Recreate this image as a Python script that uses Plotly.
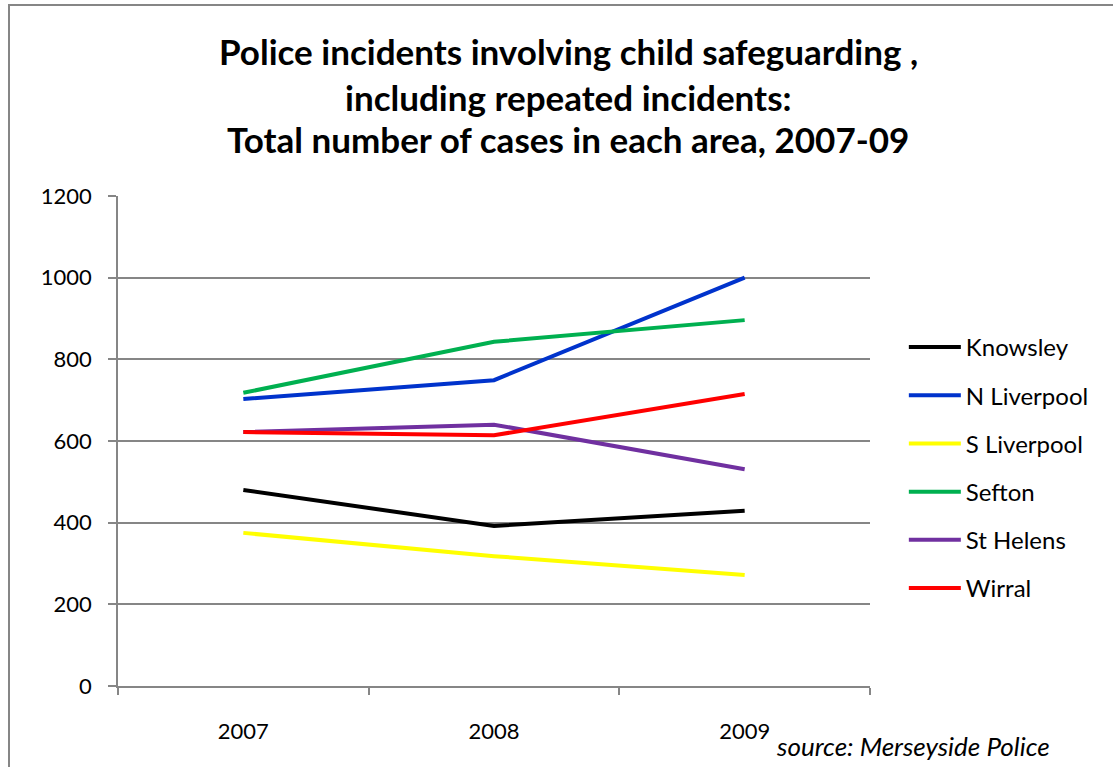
import plotly.graph_objects as go

# Incident counts per area, 2007-2009
years = ["2007", "2008", "2009"]
areas = ["Knowsley", "N Liverpool", "S Liverpool", "Sefton", "St Helens", "Wirral"]
knowsley = [480, 392, 429]
n_liverpool = [703, 749, 1000]
s_liverpool = [375, 318, 272]
sefton = [718, 843, 896]
st_helens = [622, 640, 531]
wirral = [622, 614, 715]
y_ticks = [0, 200, 400, 600, 800, 1000, 1200]

series = [knowsley, n_liverpool, s_liverpool, sefton, st_helens, wirral]
colors = ["#000000", "#0033CC", "#FFFF00", "#00B050", "#7030A0", "#FF0000"]

FONT = "Lato"
GRID = "#868686"

fig = go.Figure()
for name, vals, col in zip(areas, series, colors):
    fig.add_trace(go.Scatter(
        x=years, y=vals, name=name, mode="lines",
        line=dict(color=col, width=4), legendgroup=name,
    ))

fig.update_layout(
    width=1113, height=767,
    margin=dict(l=118, r=243, t=196, b=81),
    paper_bgcolor="white", plot_bgcolor="white",
    font=dict(family=FONT, size=22, color="black"),
    showlegend=True,
    legend=dict(
        x=1.045, y=0.445, xanchor="left", yanchor="middle",
        font=dict(family=FONT, size=24, color="black"),
        tracegroupgap=14, itemwidth=52, bgcolor="rgba(0,0,0,0)",
    ),
    xaxis=dict(
        type="category", range=[-0.5, 2.5],
        showgrid=False, showline=True, linecolor=GRID, linewidth=1.5,
        ticks="outside", tickson="boundaries", ticklen=7, tickcolor=GRID,
        tickwidth=1.5, ticklabelstandoff=25, zeroline=False,
    ),
    yaxis=dict(
        range=[0, 1200], tickvals=y_ticks,
        showgrid=True, gridcolor=GRID, gridwidth=1.5,
        showline=True, linecolor=GRID, linewidth=1.5,
        ticks="outside", ticklen=8, tickcolor=GRID, tickwidth=1.5,
        ticklabelstandoff=12, zeroline=False,
    ),
)

# Chart title, three centred lines
title_lines = [
    "Police incidents involving child safeguarding ,",
    "including repeated incidents:",
    "Total number of cases in each area, 2007-09",
]
for line, ypix in zip(title_lines, [51, 97, 139]):
    fig.add_annotation(
        text="<b>%s</b>" % line, xref="paper", yref="paper",
        x=(568 - 118) / 752, y=(686 - ypix) / 490,
        xanchor="center", yanchor="middle", showarrow=False,
        font=dict(family=FONT, size=35, color="black"),
    )

# Source note
fig.add_annotation(
    text="<i>source: Merseyside Police</i>", xref="paper", yref="paper",
    x=(1052 - 118) / 752, y=(686 - 746) / 490,
    xanchor="right", yanchor="middle", showarrow=False,
    font=dict(family=FONT, size=26, color="black"),
)

# Outer chart frame
fig.add_shape(
    type="rect", xref="paper", yref="paper",
    x0=(9 - 118) / 752, x1=1.5, y0=-0.5, y1=(686 - 5) / 490,
    line=dict(color=GRID, width=2), fillcolor="rgba(0,0,0,0)", layer="below",
)

fig.write_html("out.html")
